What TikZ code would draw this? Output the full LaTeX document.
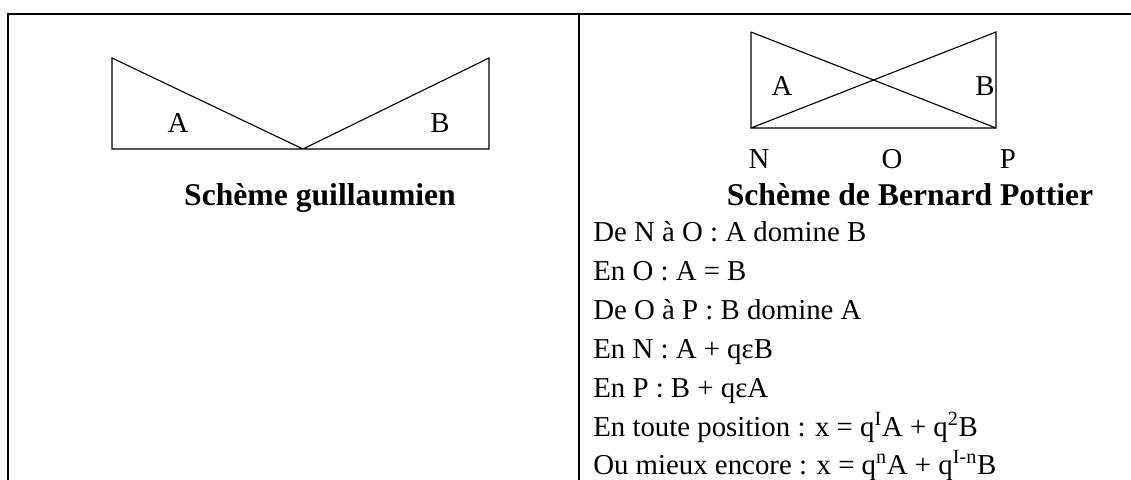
\documentclass[tikz,border=0pt]{standalone}
\usepackage{fontspec}
\setmainfont{Liberation Serif}
\usetikzlibrary{positioning}

\begin{document}
\begin{tikzpicture}[x=0.025cm, y=-0.025cm,
    every node/.style={font=\fontsize{20.5}{24}\selectfont, inner sep=0pt},
    cadre/.style={line width=1.4pt},
    schema/.style={line width=0.8pt, line join=miter},
    titre/.style={font=\fontsize{22.5}{27}\selectfont\bfseries, anchor=base},
    ligne/.style={anchor=base west}]
    \useasboundingbox (0,0) rectangle (1131,480);

    % tableau
    \draw[cadre] (8,480) -- (8,14) -- (1131,14);
    \draw[cadre] (579,14) -- (579,480);

    % schème guillaumien
    \coordinate (g1) at (112,58);
    \coordinate (g2) at (112,149);
    \coordinate (gv) at (303,149);
    \coordinate (g3) at (489,149);
    \coordinate (g4) at (489,58);
    \draw[schema] (g1) -- (g2) -- (g3) -- (g4) -- (gv) -- cycle;
    \node (gA) at (178,123) {A};
    \node (gB) at (440,123) {B};
    \node[titre] (gtitre) at (320,205) {Schème guillaumien};

    % schème de Bernard Pottier
    \coordinate (pNh) at (751,32);
    \coordinate (pN) at (751,128);
    \coordinate (pP) at (996,128);
    \coordinate (pPh) at (996,32);
    \draw[schema] (pNh) -- (pN) -- (pP) -- (pPh) -- (pN);
    \draw[schema] (pNh) -- (pP);
    \node (pA) at (782,86) {A};
    \node (pB) at (985,86) {B};
    \node[anchor=base] (ptN) at (759,168) {N};
    \node[anchor=base] (ptO) at (892,168) {O};
    \node[anchor=base] (ptP) at (1008,168) {P};
    \node[titre] (ptitre) at (910,205) {Schème de Bernard Pottier};

    \node[ligne] (l1) at (593,241) {De N à O : A domine B};
    \node[ligne] (l2) at (593,280) {En O : A = B};
    \node[ligne] (l3) at (593,319) {De O à P : B domine A};
    \node[ligne] (l4) at (593,358) {En N : A + qεB};
    \node[ligne] (l5) at (593,397) {En P : B + qεA};
    \node[ligne] (l6) at (593,436) {En toute position : x = q\textsuperscript{I}A + q\textsuperscript{2}B};
    \node[ligne] (l7) at (593,474) {Ou mieux encore : x = q\textsuperscript{n}A + q\textsuperscript{I-n}B};
\end{tikzpicture}
\end{document}
